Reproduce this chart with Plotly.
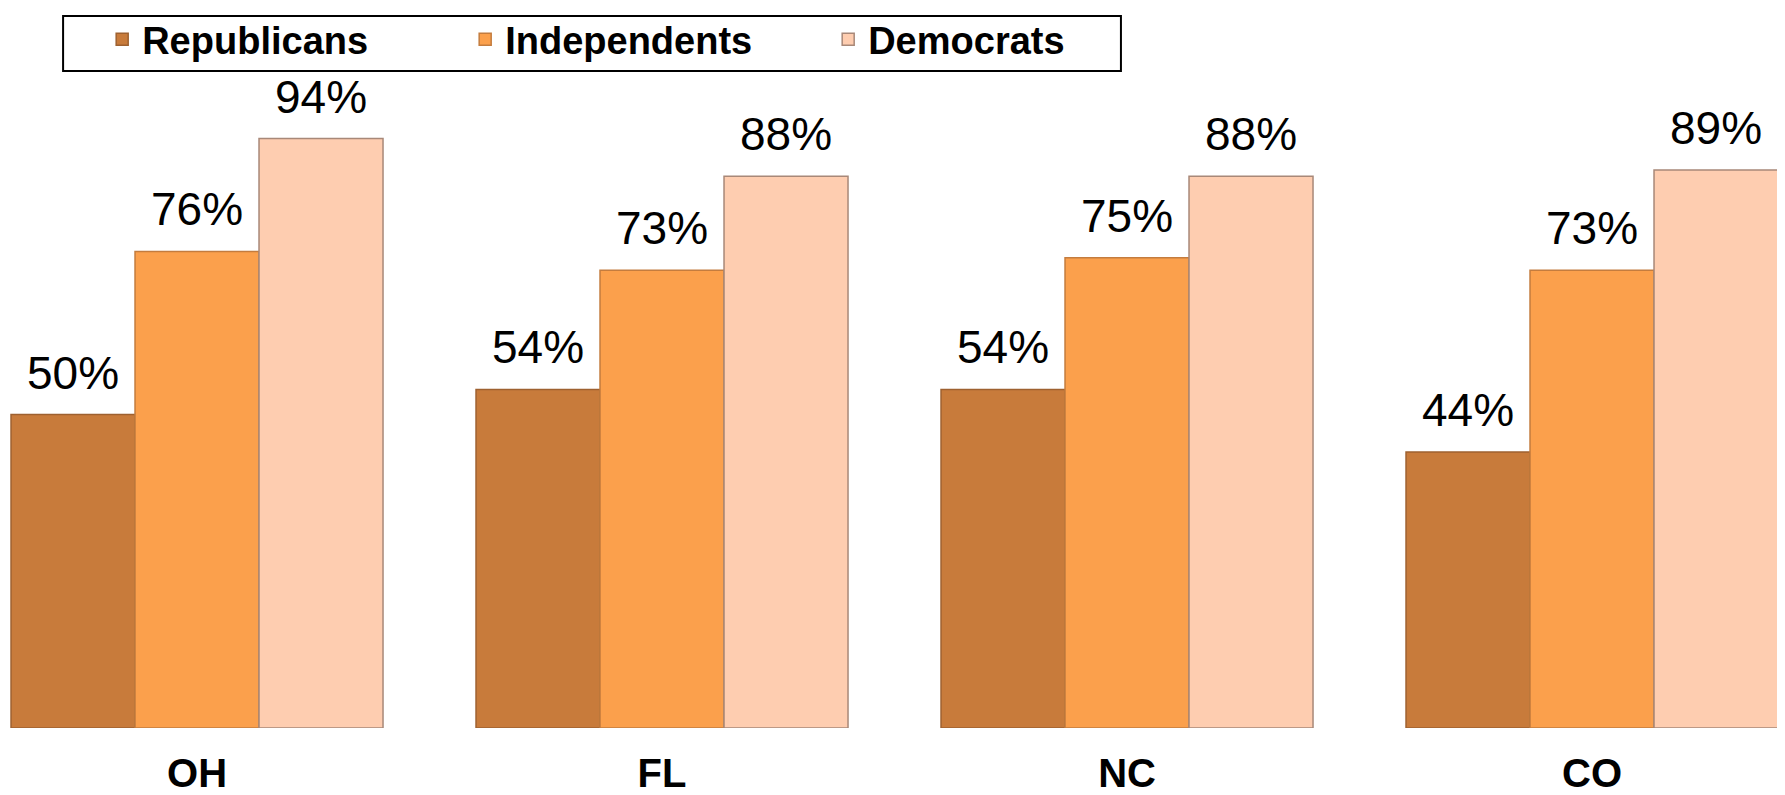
import plotly.graph_objects as go

states = ['OH', 'FL', 'NC', 'CO']
republicans = [50, 54, 54, 44]
independents = [76, 73, 75, 73]
democrats = [94, 88, 88, 89]

series = [
    ('Republicans', republicans, '#C87B3B', '#9E6130'),
    ('Independents', independents, '#FBA04C', '#C47C3E'),
    ('Democrats', democrats, '#FECDB0', '#A88878'),
]

bargap = 0.2
slot = (1 - bargap) / len(series)

fig = go.Figure()
for k, (name, vals, color, edge) in enumerate(series):
    fig.add_trace(go.Bar(
        name=name,
        x=states,
        y=vals,
        marker=dict(color=color, line=dict(color=edge, width=1.5)),
    ))
    # value labels sit a little higher than plotly's 'outside' text
    for i, v in enumerate(vals):
        fig.add_annotation(
            x=i + (k - 1) * slot, y=v, xref='x', yref='y',
            text=f'{v}%', showarrow=False,
            yanchor='bottom', yshift=14,
            font=dict(family='Liberation Sans, Arial', size=46, color='black'),
        )

# legend frame drawn as a shape so its size is independent of the font
fig.add_shape(
    type='rect', xref='paper', yref='paper',
    x0=0.031, x1=0.6263, y0=1.0478, y1=1.1356,
    line=dict(color='black', width=2), fillcolor='white', layer='below',
)

# page has an 8px body margin, so the figure is 8px smaller than the window
fig.update_layout(
    width=1777,
    height=787,
    barmode='group',
    bargap=bargap,
    bargroupgap=0,
    plot_bgcolor='white',
    paper_bgcolor='white',
    margin=dict(l=0, r=0, t=93, b=67),
    font=dict(family='Liberation Sans, Arial', color='black'),
    legend=dict(
        orientation='h',
        x=0.053, y=1.0985,
        xanchor='left', yanchor='middle',
        borderwidth=0, bgcolor='rgba(0,0,0,0)',
        font=dict(family='Liberation Sans, Arial', size=38, color='black', weight='bold'),
        entrywidth=318,
    ),
    showlegend=True,
)
fig.update_xaxes(
    range=[-0.4065, 3.415],
    showgrid=False, showline=False, zeroline=False,
    ticks='outside', ticklen=10, tickcolor='rgba(0,0,0,0)',
    tickfont=dict(family='Liberation Sans, Arial', size=40, color='black', weight='bold'),
)
fig.update_yaxes(range=[0, 100], visible=False)

fig.write_html('out.html')
